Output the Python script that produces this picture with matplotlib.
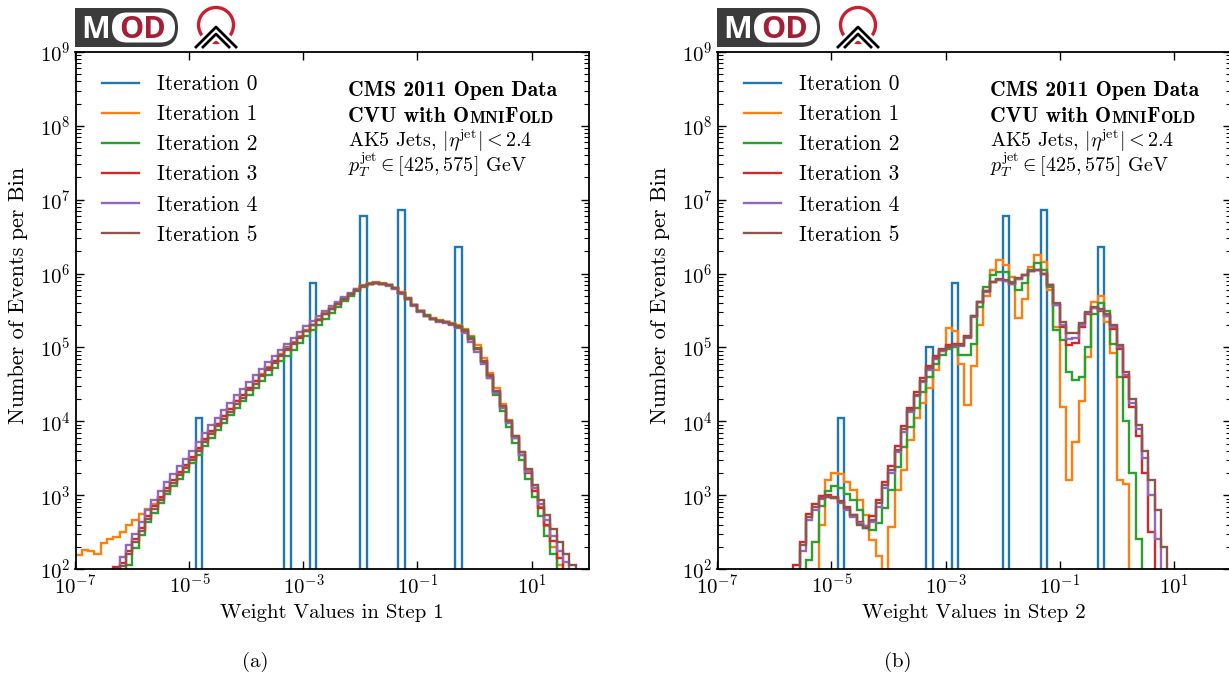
import numpy as np
import matplotlib
matplotlib.use("Agg")
import matplotlib.pyplot as plt
from matplotlib import ticker
from matplotlib.patches import FancyBboxPatch, Rectangle, Circle

plt.rcParams['font.family'] = 'serif'
plt.rcParams['font.serif'] = ['cmr10']
plt.rcParams['mathtext.fontset'] = 'cm'
plt.rcParams['axes.formatter.use_mathtext'] = True
plt.rcParams['font.size'] = 15

# 9 bins per decade, 1e-7 .. 1e2
bin_edges = np.logspace(-7, 2, 82)

# iteration 0: discrete initial weights
iter0_weights = [1.32e-5, 4.8e-4, 1.35e-3, 1.1e-2, 4.8e-2, 0.53]
iter0_counts = [1.1e4, 1.0e5, 7.5e5, 6.0e6, 7.2e6, 2.3e6]

# log10(events per bin), listed from the first filled bin
step1_start = [0, 8, 6, 7, 7]
step1_iter1 = [2.19, 2.26, 2.25, 2.20, 2.35, 2.40, 2.43, 2.50, 2.60, 2.67,
               2.74, 2.81, 2.88, 2.96, 3.06, 3.17, 3.29, 3.40, 3.50, 3.62,
               3.75, 3.86, 3.97, 4.07, 4.17, 4.27, 4.36, 4.45, 4.55, 4.64,
               4.73, 4.82, 4.91, 4.99, 5.07, 5.15, 5.23, 5.31, 5.38, 5.46,
               5.53, 5.60, 5.67, 5.73, 5.79, 5.84, 5.87, 5.88, 5.87, 5.85,
               5.81, 5.75, 5.67, 5.58, 5.50, 5.44, 5.40, 5.37, 5.35, 5.33,
               5.30, 5.25, 5.16, 5.03, 4.86, 4.66, 4.45, 4.24, 4.02, 3.80,
               3.58, 3.34, 3.09, 2.84, 2.58, 2.30, 2.05]
step1_iter2 = [2.06, 2.28,
               2.46, 2.63, 2.76, 2.89, 3.01, 3.12, 3.22, 3.32, 3.43, 3.55,
               3.67, 3.78, 3.88, 3.98, 4.08, 4.18, 4.27, 4.36, 4.45, 4.54,
               4.63, 4.72, 4.81, 4.89, 4.97, 5.06, 5.15, 5.23, 5.31, 5.39,
               5.47, 5.55, 5.63, 5.70, 5.77, 5.82, 5.86, 5.87, 5.86, 5.84,
               5.80, 5.74, 5.67, 5.58, 5.50, 5.44, 5.39, 5.36, 5.34, 5.32,
               5.29, 5.24, 5.14, 4.99, 4.80, 4.58, 4.36, 4.14, 3.92, 3.70,
               3.48, 3.22, 2.98, 2.72, 2.45, 2.20]
step1_iter3 = [2.03, 2.08, 2.24, 2.40,
               2.56, 2.72, 2.85, 2.98, 3.10, 3.21, 3.31, 3.41, 3.52, 3.64,
               3.76, 3.87, 3.97, 4.07, 4.17, 4.27, 4.36, 4.45, 4.54, 4.63,
               4.72, 4.81, 4.90, 4.98, 5.06, 5.14, 5.22, 5.30, 5.37, 5.45,
               5.52, 5.59, 5.66, 5.72, 5.78, 5.83, 5.86, 5.87, 5.86, 5.84,
               5.80, 5.74, 5.66, 5.57, 5.49, 5.43, 5.39, 5.36, 5.34, 5.32,
               5.28, 5.22, 5.12, 4.98, 4.80, 4.60, 4.39, 4.19, 3.99, 3.78,
               3.55, 3.30, 3.06, 2.82, 2.60, 2.38, 2.15]
step1_iter4 = [2.16, 2.32, 2.48,
               2.64, 2.80, 2.93, 3.06, 3.18, 3.29, 3.39, 3.49, 3.60, 3.72,
               3.84, 3.95, 4.05, 4.15, 4.25, 4.35, 4.44, 4.53, 4.62, 4.71,
               4.80, 4.89, 4.97, 5.05, 5.13, 5.21, 5.29, 5.36, 5.43, 5.50,
               5.56, 5.62, 5.68, 5.74, 5.79, 5.83, 5.86, 5.87, 5.86, 5.83,
               5.79, 5.73, 5.65, 5.56, 5.48, 5.42, 5.38, 5.35, 5.33, 5.30,
               5.26, 5.19, 5.08, 4.94, 4.77, 4.58, 4.38, 4.18, 3.98, 3.77,
               3.55, 3.32, 3.10, 2.88, 2.66, 2.45, 2.25, 2.10]
step1_iter5 = [2.04, 2.20, 2.36,
               2.52, 2.68, 2.81, 2.94, 3.06, 3.17, 3.27, 3.37, 3.48, 3.60,
               3.72, 3.83, 3.93, 4.03, 4.13, 4.23, 4.32, 4.42, 4.51, 4.61,
               4.70, 4.79, 4.88, 4.97, 5.05, 5.13, 5.22, 5.30, 5.37, 5.45,
               5.52, 5.59, 5.66, 5.72, 5.78, 5.83, 5.86, 5.87, 5.86, 5.84,
               5.80, 5.74, 5.66, 5.57, 5.49, 5.43, 5.39, 5.36, 5.34, 5.32,
               5.28, 5.22, 5.12, 4.98, 4.81, 4.62, 4.41, 4.21, 4.01, 3.80,
               3.58, 3.36, 3.14, 2.93, 2.73, 2.54, 2.36, 2.20, 2.06]

step2_start = [16, 14, 12, 13, 13]
step2_iter1 = [2.60, 3.20, 3.30, 3.28,
               3.18, 3.07, 2.93, 2.73, 2.39, 2.17, 1.80, 2.57, 3.07, 3.34,
               3.75, 4.05, 4.25, 4.45, 4.70, 4.95, 5.26, 5.22, 4.78, 4.22,
               4.75, 5.30, 5.70, 6.05, 6.19, 6.12, 5.95, 5.40, 5.66, 6.09,
               6.25, 6.15, 5.78, 5.28, 4.19, 3.20, 3.72, 4.28, 4.87, 5.62,
               5.70, 5.35, 4.92, 3.20, 3.15]
step2_iter2 = [2.12, 2.37, 2.85, 3.05, 3.12, 3.10,
               3.02, 2.93, 2.80, 2.55, 2.53, 2.62, 2.83, 3.07, 3.38, 3.65,
               3.92, 4.18, 4.40, 4.60, 4.78, 4.90, 4.98, 5.00, 4.90, 4.90,
               5.05, 5.55, 5.82, 5.98, 6.02, 6.02, 5.88, 5.78, 5.87, 6.05,
               6.14, 6.05, 5.82, 5.23, 5.10, 4.67, 4.56, 4.60, 5.00, 5.45,
               5.60, 5.50, 5.05, 4.60, 4.00, 3.30, 2.40]
step2_iter3 = [2.05, 2.36, 2.74, 2.88, 2.99, 3.00, 2.97, 2.92,
               2.84, 2.73, 2.64, 2.58, 2.72, 2.93, 3.18, 3.40, 3.66, 3.94,
               4.18, 4.39, 4.58, 4.75, 4.88, 4.98, 5.03, 5.05, 5.04, 5.15,
               5.42, 5.62, 5.76, 5.88, 5.91, 5.90, 5.86, 5.93, 5.98, 6.03,
               6.05, 6.00, 5.84, 5.57, 5.28, 5.03, 5.06, 5.28, 5.45, 5.53,
               5.50, 5.42, 5.25, 4.98, 4.60, 4.20, 3.80, 3.30, 2.50]
step2_iter4 = [2.25, 2.66, 2.80, 2.95, 2.97, 2.96, 2.90,
               2.80, 2.70, 2.62, 2.58, 2.63, 2.84, 3.10, 3.30, 3.58, 3.86,
               4.12, 4.34, 4.53, 4.70, 4.85, 4.95, 5.00, 5.02, 5.02, 5.13,
               5.41, 5.61, 5.75, 5.88, 5.91, 5.90, 5.86, 5.93, 5.98, 6.03,
               6.05, 6.00, 5.84, 5.58, 5.31, 5.12, 5.13, 5.30, 5.46, 5.54,
               5.51, 5.43, 5.27, 5.00, 4.62, 4.25, 3.90, 3.50, 3.00, 2.40]
step2_iter5 = [2.32, 2.71, 2.84, 2.96, 2.98, 2.96, 2.91,
               2.82, 2.73, 2.60, 2.55, 2.66, 2.89, 3.14, 3.34, 3.61, 3.90,
               4.15, 4.36, 4.55, 4.72, 4.86, 4.96, 5.01, 5.03, 5.03, 5.14,
               5.42, 5.62, 5.76, 5.89, 5.92, 5.91, 5.87, 5.94, 5.98, 6.03,
               6.05, 6.00, 5.85, 5.60, 5.35, 5.19, 5.20, 5.33, 5.48, 5.55,
               5.52, 5.45, 5.30, 5.03, 4.67, 4.30, 3.95, 3.60, 3.20, 2.80, 2.30]

labels = ['Iteration %d' % i for i in range(6)]
colors = ['#1f77b4', '#ff7f0e', '#2ca02c', '#d62728', '#9467bd', '#8c564b']
W, H = 1229, 673


def fill_bins(start, logvals):
    c = np.zeros(len(bin_edges) - 1)
    c[start:start + len(logvals)] = 10.0 ** np.array(logvals)
    return c


def draw_logo(fig, x0):
    lax = fig.add_axes([x0 / W, 1 - 50 / H, 170 / W, 45 / H])
    lax.set_xlim(0, 170)
    lax.set_ylim(45, 0)
    lax.axis('off')
    dark = '#3b3b3b'
    lax.add_patch(FancyBboxPatch((0, 3), 103, 39, boxstyle='round,pad=0,rounding_size=19.5',
                                 fc=dark, ec='none'))
    lax.add_patch(Rectangle((0, 3), 50, 39, fc=dark, ec='none'))
    lax.add_patch(FancyBboxPatch((37, 7.5), 63, 30, boxstyle='round,pad=0,rounding_size=15',
                                 fc='white', ec='none'))
    lax.text(21, 33, 'M', color='white', fontsize=22, family='Open Sans', weight='bold',
             ha='center', va='baseline')
    lax.text(68, 33, 'OD', color='#a41f35', fontsize=22, family='Open Sans', weight='bold',
             ha='center', va='baseline')
    lax.add_patch(Circle((141, 20), 17.5, fill=False, ec='#c8202f', lw=2.4))
    chevrons = [([120, 141, 162], [43, 22, 43]), ([127, 141, 155], [43, 29, 43])]
    for xs, ys in chevrons:
        lax.plot(xs, ys, color='white', lw=6, solid_capstyle='butt')
    for xs, ys in chevrons:
        lax.plot(xs, ys, color='black', lw=2, solid_capstyle='butt')


def info_block(ax):
    x = 0.531
    ax.text(x, 0.9149, 'CMS 2011 Open Data', transform=ax.transAxes, fontsize=15.5,
            family='cmb10', va='baseline')
    prev = ax.text(x, 0.8646, 'CVU with O', transform=ax.transAxes, fontsize=15.5,
                   family='cmb10', va='baseline')
    for txt, fs in [('MNI', 12), ('F', 15.5), ('OLD', 12)]:
        prev = ax.annotate(txt, xy=(1, 0), xycoords=prev, fontsize=fs, family='cmb10',
                           ha='left', va='bottom')
    ax.text(x, 0.8162, r'AK5 Jets, $|\eta^{\rm jet}| < 2.4$', transform=ax.transAxes,
            fontsize=14.5, va='baseline')
    ax.text(x, 0.7679, r'$p_T^{\rm jet} \in [425, 575]$ GeV', transform=ax.transAxes,
            fontsize=14.5, va='baseline')


fig = plt.figure(figsize=(W / 100, H / 100), dpi=100)

panels = [
    (75.5, 'Weight Values in Step 1', step1_start,
     [step1_iter1, step1_iter2, step1_iter3, step1_iter4, step1_iter5], '(a)', 255),
    (717.5, 'Weight Values in Step 2', step2_start,
     [step2_iter1, step2_iter2, step2_iter3, step2_iter4, step2_iter5], '(b)', 898),
]

counts0, _ = np.histogram(iter0_weights, bins=bin_edges, weights=iter0_counts)

for left, xlabel, starts, series, cap, capx in panels:
    ax = fig.add_axes([left / W, 1 - 569 / H, 513 / W, 517 / H])
    ax.stairs(counts0, bin_edges, color=colors[0], lw=1.7, label=labels[0])
    for k, (st, vals) in enumerate(zip(starts, series)):
        ax.stairs(fill_bins(st, vals), bin_edges, color=colors[k + 1], lw=1.7,
                  label=labels[k + 1])
    ax.set_xscale('log')
    ax.set_yscale('log')
    ax.set_xlim(1e-7, 1e2)
    ax.set_ylim(1e2, 1e9)
    ax.xaxis.set_major_locator(ticker.FixedLocator([1e-7, 1e-5, 1e-3, 1e-1, 1e1]))
    ax.xaxis.set_minor_locator(ticker.NullLocator())
    ax.yaxis.set_major_locator(ticker.LogLocator(base=10, numticks=20))
    ax.yaxis.set_minor_locator(ticker.LogLocator(base=10, subs=np.arange(2, 10), numticks=20))
    ax.yaxis.set_minor_formatter(ticker.NullFormatter())
    ax.tick_params(which='both', direction='in', top=True, right=True, labelsize=15)
    ax.tick_params(which='major', length=6, width=1)
    ax.tick_params(which='minor', length=3.5, width=0.8)
    for sp in ax.spines.values():
        sp.set_linewidth(1.3)
    ax.set_xlabel(xlabel, fontsize=15)
    ax.set_ylabel('Number of Events per Bin', fontsize=16)
    ax.yaxis.set_label_coords(-0.0926, 0.53)
    ax.legend(loc='upper left', bbox_to_anchor=(0.0517, 0.956), frameon=False,
              borderaxespad=0, borderpad=0, handlelength=1.72, handletextpad=0.84,
              labelspacing=0.49, fontsize=15.5)
    info_block(ax)
    draw_logo(fig, left - 0.5)
    fig.text(capx / W, 1 - 662 / H, cap, ha='center', va='center', fontsize=15)

fig.savefig('out.png', dpi=100)
